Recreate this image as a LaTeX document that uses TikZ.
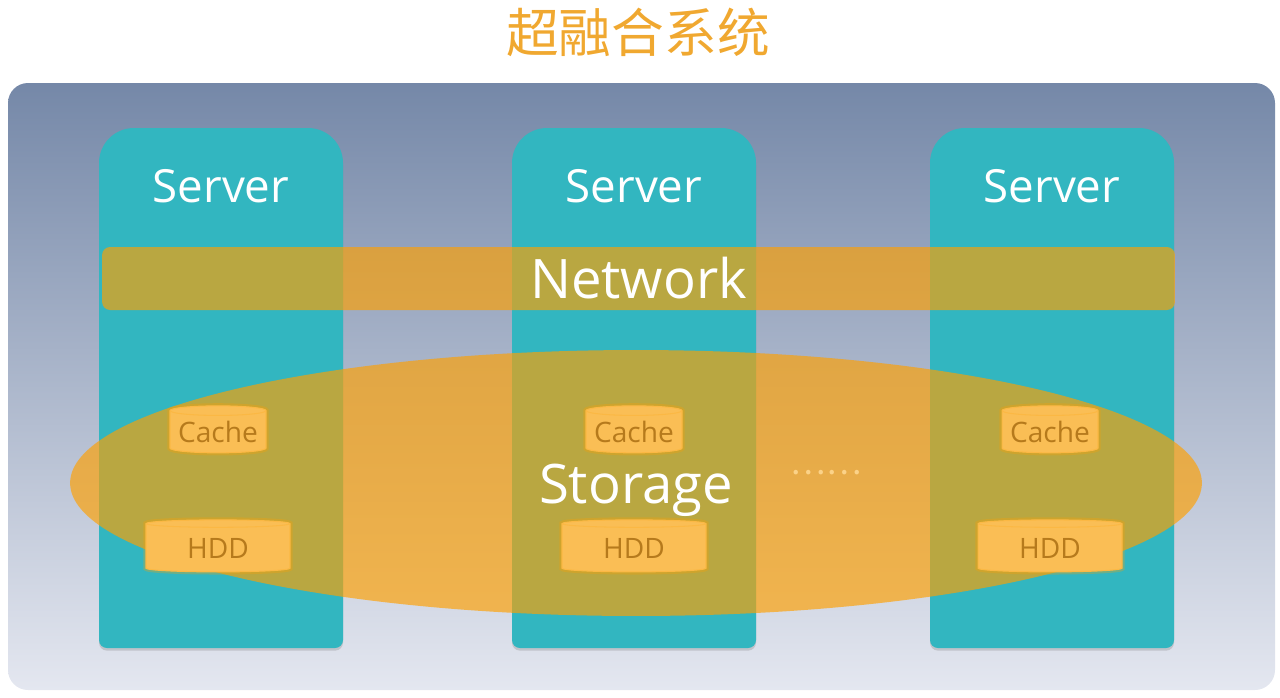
\documentclass[tikz,border=0pt]{standalone}
\usepackage{fontspec}
\setmainfont{Open Sans}
\newfontfamily\cjkfont{Noto Sans CJK SC}
\usetikzlibrary{shapes.geometric, shadows, positioning}
\definecolor{myteal}{RGB}{50,182,192}
\definecolor{myorange}{RGB}{255,160,0}
\definecolor{mydisk}{RGB}{250,190,85}
\definecolor{mydisktext}{RGB}{182,122,28}
\definecolor{mytitle}{RGB}{240,168,48}
\definecolor{bgtop}{RGB}{117,136,168}
\definecolor{bgbottom}{RGB}{228,231,240}
\tikzstyle{servertext} = [text=white, font=\fontsize{26}{30}\selectfont]
\tikzstyle{layer} = [fill=myorange, fill opacity=0.66, text opacity=1, text=white, font=\fontsize{31}{36}\selectfont]
\tikzstyle{disk} = [cylinder, shape border rotate=90, aspect=0.12, draw=mydisk!80!myorange, line width=0.6pt, fill=mydisk, text=mydisktext, font=\fontsize{16}{18}\selectfont, inner sep=0pt, preaction={draw=myorange, line width=3pt, opacity=0.3}]

\begin{document}
\begin{tikzpicture}[x=0.02cm, y=-0.02cm]
\useasboundingbox (0,0) rectangle (1280,697);
\node[text=mytitle, font=\cjkfont\fontsize{30}{34}\selectfont] (title) at (638,32) {超融合系统};
\shade[top color=bgtop, bottom color=bgbottom, rounded corners=0.4cm] (8,83) rectangle (1275,690);

% server columns
\foreach \cx/\id in {221/a, 634/b, 1052/c}{
  \fill[myteal, drop shadow={opacity=0.3, shadow xshift=0pt, shadow yshift=-1.5pt}]
    ({\cx-122},648) [rounded corners=0.16cm] -- ({\cx+122},648) -- ({\cx+122},400)
    [rounded corners=0.7cm] -- ({\cx+122},128) -- ({\cx-122},128) -- ({\cx-122},400)
    [rounded corners=0.16cm] -- cycle;
  \node[servertext] (server\id) at (\cx,186) {Server};
}

% shared layers
\node[layer, rounded corners=0.16cm, minimum width=21.46cm, minimum height=1.26cm] (network) at (638.5,278.5) {Network};
\node[layer, ellipse, minimum width=22.64cm, minimum height=5.32cm] (storage) at (636,483) {\raisebox{-4pt}[\height][\depth]{Storage}};

% disks
\foreach \cx/\id in {218/a, 634/b, 1050/c}{
  \node[disk, minimum width=1.92cm, minimum height=0.94cm] (cache\id) at (\cx,432) {Cache};
  \node[disk, minimum width=2.88cm, minimum height=1.04cm] (hdd\id) at (\cx,548) {HDD};
}
\node[text=mydisk!70!white, font=\cjkfont\fontsize{19}{20}\selectfont] (more) at (826,473) {……};
\end{tikzpicture}
\end{document}
